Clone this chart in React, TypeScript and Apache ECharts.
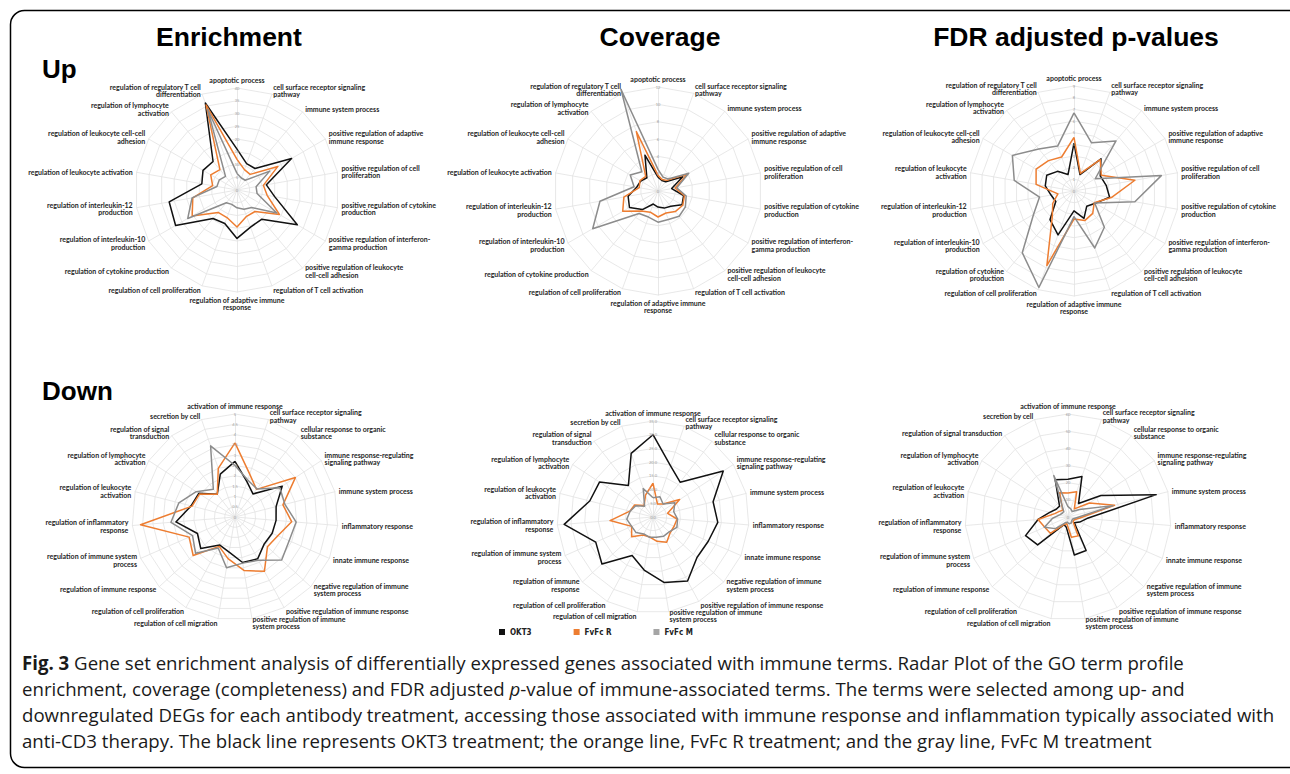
import React, { useEffect, useRef } from 'react';
import * as echarts from 'echarts';

// ---------------- data ----------------
const seriesNames = ['OKT3', 'FvFc R', 'FvFc M'];
const lineColors = ['#111111', '#ED7D31', '#8C8C8C'];
const legendColors = ['#111111', '#ED7D31', '#A5A5A5'];

const upLabels = [
  'apoptotic process',
  'cell surface receptor signaling\npathway',
  'immune system process',
  'positive regulation of adaptive\nimmune response',
  'positive regulation of cell\nproliferation',
  'positive regulation of cytokine\nproduction',
  'positive regulation of interferon-\ngamma production',
  'positive regulation of leukocyte\ncell-cell adhesion',
  'regulation of T cell activation',
  'regulation of adaptive immune\nresponse',
  'regulation of cell proliferation',
  'regulation of cytokine production',
  'regulation of interleukin-10\nproduction',
  'regulation of interleukin-12\nproduction',
  'regulation of leukocyte activation',
  'regulation of leukocyte cell-cell\nadhesion',
  'regulation of lymphocyte\nactivation',
  'regulation of regulatory T cell\ndifferentiation',
];
const upLabelsFdr = [
  'apoptotic process',
  'cell surface receptor signaling\npathway',
  'immune system process',
  'positive regulation of adaptive\nimmune response',
  'positive regulation of cell\nproliferation',
  'positive regulation of cytokine\nproduction',
  'positive regulation of interferon-\ngamma production',
  'positive regulation of leukocyte\ncell-cell adhesion',
  'regulation of T cell activation',
  'regulation of adaptive immune\nresponse',
  'regulation of cell proliferation',
  'regulation of cytokine\nproduction',
  'regulation of interleukin-10\nproduction',
  'regulation of interleukin-12\nproduction',
  'regulation of leukocyte\nactivation',
  'regulation of leukocyte cell-cell\nadhesion',
  'regulation of lymphocyte\nactivation',
  'regulation of regulatory T cell\ndifferentiation',
];
const downLabels = [
  'activation of immune response',
  'cell surface receptor signaling\npathway',
  'cellular response to organic\nsubstance',
  'immune response-regulating\nsignaling pathway',
  'immune system process',
  'inflammatory response',
  'innate immune response',
  'negative regulation of immune\nsystem process',
  'positive regulation of immune response',
  'positive regulation of immune\nsystem process',
  'regulation of cell migration',
  'regulation of cell proliferation',
  'regulation of immune response',
  'regulation of immune system\nprocess',
  'regulation of inflammatory\nresponse',
  'regulation of leukocyte\nactivation',
  'regulation of lymphocyte\nactivation',
  'regulation of signal\ntransduction',
  'secretion by cell',
];
const downLabelsCov = [
  'activation of immune response',
  'cell surface receptor signaling\npathway',
  'cellular response to organic\nsubstance',
  'immune response-regulating\nsignaling pathway',
  'immune system process',
  'inflammatory response',
  'innate immune response',
  'negative regulation of immune\nsystem process',
  'positive regulation of immune response',
  'positive regulation of immune\nsystem process',
  'regulation of cell migration',
  'regulation of cell proliferation',
  'regulation of immune\nresponse',
  'regulation of immune system\nprocess',
  'regulation of inflammatory\nresponse',
  'regulation of leukocyte\nactivation',
  'regulation of lymphocyte\nactivation',
  'regulation of signal\ntransduction',
  'secretion by cell',
];
const downLabelsFdr = [
  'activation of immune response',
  'cell surface receptor signaling\npathway',
  'cellular response to organic\nsubstance',
  'immune response-regulating\nsignaling pathway',
  'immune system process',
  'inflammatory response',
  'innate immune response',
  'negative regulation of immune\nsystem process',
  'positive regulation of immune response',
  'positive regulation of immune\nsystem process',
  'regulation of cell migration',
  'regulation of cell proliferation',
  'regulation of immune response',
  'regulation of immune system\nprocess',
  'regulation of inflammatory\nresponse',
  'regulation of leukocyte\nactivation',
  'regulation of lymphocyte\nactivation',
  'regulation of signal transduction',
  'secretion by cell',
];

// Up - Enrichment
const upEnrichOKT3 = [16, 11, 11, 24.7, 11.7, 15, 27.3, 15, 15.5, 19, 14, 14.6, 27.8, 27, 14, 15.4, 14.6, 36.3];
const upEnrichFvFcR = [12, 8.5, 8, 18.5, 10.5, 12, 19.2, 11, 11, 14.5, 11.5, 11.5, 20.3, 17.6, 9.7, 11.9, 10.4, 35.5];
const upEnrichFvFcM = [6.5, 5, 5, 14.8, 7.6, 8, 18, 9, 8, 7, 6, 6.5, 22.3, 17.9, 8, 8, 7, 33.7];
// Up - Coverage
const upCovOKT3 = [1.6, 1.3, 1.4, 3.3, 1.6, 3.0, 3.2, 2.3, 2.1, 1.85, 1.6, 2.8, 3.8, 3.5, 2.5, 2.3, 2.0, 4.4];
const upCovFvFcR = [1.8, 1.4, 1.6, 3.9, 2.0, 3.1, 3.3, 3.1, 2.7, 3.0, 2.6, 3.0, 4.7, 4.0, 2.2, 2.4, 2.2, 7.3];
const upCovFvFcM = [2.5, 1.7, 1.8, 4.1, 2.2, 3.3, 3.65, 3.8, 3.5, 3.6, 3.2, 3.4, 8.7, 6.8, 2.8, 3.7, 2.9, 12.5];
// Up - FDR
const upFdrOKT3 = [4.1, 1.5, 3.6, 2.6, 2.8, 3.1, 2.1, 1.7, 2.5, 1.7, 4.0, 3.2, 1.8, 2.0, 2.5, 2.7, 2.2, 1.5];
const upFdrFvFcR = [4.6, 1.6, 3.5, 2.7, 5.3, 3.25, 2.0, 2.5, 2.7, 2.4, 6.8, 2.9, 2.1, 1.4, 3.3, 3.75, 3.4, 3.1];
const upFdrFvFcM = [6.7, 4.4, 5.6, 2.1, 7.6, 5.3, 2.05, 4.05, 5.2, 2.2, 8.8, 6.9, 4.0, 3.0, 5.2, 6.1, 4.7, 4.1];
// Down - Enrichment
const downEnrichOKT3 = [2.7, 1.8, 1.42, 2.74, 2.06, 2.0, 1.97, 1.93, 2.31, 2.24, 1.73, 1.55, 2.26, 1.99, 2.88, 2.2, 2.1, 1.4, 2.2];
const downEnrichFvFcR = [3.6, 2.2, 1.7, 3.5, 2.4, 2.76, 2.27, 2.14, 3.0, 2.63, 2.05, 1.62, 2.76, 2.43, 4.6, 2.15, 2.05, 1.4, 2.5];
const downEnrichFvFcM = [2.5, 1.9, 1.73, 2.6, 2.5, 2.98, 2.87, 3.08, 2.39, 2.27, 2.5, 1.71, 2.6, 2.25, 3.12, 2.81, 2.25, 1.71, 3.65];
// Down - Coverage
const downCovOKT3 = [30, 19.7, 16.1, 30.6, 22.6, 23.7, 22, 21.8, 26.5, 24.2, 19.6, 16, 25.3, 22.8, 32.5, 23.8, 23.3, 14.6, 24.5];
const downCovFvFcR = [12.3, 5, 6, 11.6, 5.5, 8.8, 8.4, 8.5, 10.5, 9, 7.4, 7.5, 10.6, 8.5, 15.7, 8.7, 8, 5.3, 8.4];
const downCovFvFcM = [7, 7.8, 6, 9.5, 7.8, 9, 9.5, 8, 8, 7.5, 7.5, 7, 8.4, 8.5, 9.6, 8.6, 7.5, 5, 11];
// Down - FDR
const downFdrOKT3 = [22, 25, 10, 22.9, 53, 11, 7.4, 5, 22.2, 22.4, 6, 5, 24, 27, 17.5, 11, 8.2, 8, 23];
const downFdrFvFcR = [14, 15.5, 6, 14.9, 28, 7, 4, 4, 12.5, 12, 4, 5, 14, 14.8, 17.5, 8, 6, 5, 15];
const downFdrFvFcM = [6, 5, 4, 8, 27, 5, 3, 3, 4, 4, 3, 4, 10, 15, 9, 5, 4, 4, 25.5];

// tick labels
const upEnrichTicks = ['0', '5', '10', '15', '20', '25', '30', '35', '40'];
const upCovTicks = ['0', '2', '4', '6', '8', '10', '12'];
const upFdrTicks = ['0', '1', '2', '3', '4', '5', '6', '7', '8', '9'];
const downEnrichTicks = ['0', '0.5', '1', '1.5', '2', '2.5', '3', '3.5', '4', '4.5', '5'];
const downCovTicks = ['0.0', '5.0', '10.0', '15.0', '20.0', '25.0', '30.0', '35.0'];
const downFdrTicks = ['0', '10', '20', '30', '40', '50', '60'];

const columnTitles = ['Enrichment', 'Coverage', 'FDR adjusted p-values'];
const rowTitles = ['Up', 'Down'];

const captionLines = [
  'Fig. 3 Gene set enrichment analysis of differentially expressed genes associated with immune terms. Radar Plot of the GO term profile',
  'enrichment, coverage (completeness) and FDR adjusted p-value of immune-associated terms. The terms were selected among up- and',
  'downregulated DEGs for each antibody treatment, accessing those associated with immune response and inflammation typically associated with',
  'anti-CD3 therapy. The black line represents OKT3 treatment; the orange line, FvFc R treatment; and the gray line, FvFc M treatment',
];

// ---------------- layout ----------------
const panels = [
  { labels: upLabels, ticks: upEnrichTicks, values: [upEnrichOKT3, upEnrichFvFcR, upEnrichFvFcM], center: [237, 190], radius: 102 },
  { labels: upLabels, ticks: upCovTicks, values: [upCovOKT3, upCovFvFcR, upCovFvFcM], center: [658, 191], radius: 104 },
  { labels: upLabelsFdr, ticks: upFdrTicks, values: [upFdrOKT3, upFdrFvFcR, upFdrFvFcM], center: [1074, 191], radius: 105 },
  { labels: downLabels, ticks: downEnrichTicks, values: [downEnrichOKT3, downEnrichFvFcR, downEnrichFvFcM], center: [235, 517], radius: 103 },
  { labels: downLabelsCov, ticks: downCovTicks, values: [downCovOKT3, downCovFvFcR, downCovFvFcM], center: [653, 517], radius: 96 },
  { labels: downLabelsFdr, ticks: downFdrTicks, values: [downFdrOKT3, downFdrFvFcR, downFdrFvFcM], center: [1068, 517], radius: 103 },
];
const titleX = [229, 660, 1076];
const titleY = 37;
const rowTitleY = [69, 391];

// ECharts radar runs counter-clockwise; reorder to read clockwise from the top
const clockwise = <T,>(arr: T[]): T[] => [arr[0], ...arr.slice(1).reverse()];

const LABEL_FONT = 'Lato, "Open Sans", sans-serif';
const TITLE_FONT = '"Liberation Sans", Arial, sans-serif';
const CAPTION_FONT = '"Open Sans", "Noto Sans", sans-serif';
const CAPTION_SIZE = 19;

export default function App() {
  const ref = useRef<HTMLDivElement>(null);
  useEffect(() => {
    if (!ref.current) return;
    const chart = echarts.init(ref.current, undefined, { renderer: 'svg' });

    const radar = panels.map((p) => {
      const max = parseFloat(p.ticks[p.ticks.length - 1]);
      return {
        center: p.center,
        radius: p.radius,
        startAngle: 90,
        shape: 'polygon',
        splitNumber: p.ticks.length - 1,
        axisNameGap: 4,
        indicator: clockwise(p.labels).map((name) => ({ name, min: 0, max })),
        axisName: {
          color: '#262626',
          fontSize: 7,
          fontWeight: 'bold',
          fontFamily: LABEL_FONT,
          lineHeight: 7.6,
        },
        splitLine: { lineStyle: { color: '#e2e2e2', width: 0.8 } },
        splitArea: { show: false },
        axisLine: { lineStyle: { color: '#e2e2e2', width: 0.8 } },
        axisTick: { show: false },
        axisLabel: { show: false },
      };
    });

    const series = panels.map((p, pi) => ({
      type: 'radar',
      radarIndex: pi,
      symbol: 'none',
      data: p.values.map((vals, si) => ({
        name: seriesNames[si],
        value: clockwise(vals),
        symbol: 'none',
        itemStyle: { color: legendColors[si] },
        lineStyle: { color: lineColors[si], width: 1.5 },
      })),
    }));

    const graphic: any[] = [];
    // frame
    graphic.push({
      type: 'rect',
      shape: { x: 10.5, y: 10.5, width: 1400, height: 757, r: 14 },
      style: { fill: 'none', stroke: '#000', lineWidth: 1.5 },
      z: 10,
    });
    columnTitles.forEach((t, i) => {
      graphic.push({
        type: 'text', x: titleX[i], y: titleY,
        style: { text: t, fontSize: 26.5, fontWeight: 'bold', fontFamily: TITLE_FONT, fill: '#000',
          align: 'center', verticalAlign: 'middle', textAlign: 'center', textVerticalAlign: 'middle' },
      });
    });
    rowTitles.forEach((t, i) => {
      graphic.push({
        type: 'text', x: 42, y: rowTitleY[i],
        style: { text: t, fontSize: 26, fontWeight: 'bold', fontFamily: TITLE_FONT, fill: '#000',
          align: 'left', verticalAlign: 'middle', textAlign: 'left', textVerticalAlign: 'middle' },
      });
    });
    // tick labels along the first axis
    panels.forEach((p) => {
      const n = p.ticks.length - 1;
      p.ticks.forEach((t, i) => {
        graphic.push({
          type: 'text', x: p.center[0], y: p.center[1] - (p.radius * i) / n,
          style: { text: t, fontSize: 4, fontFamily: LABEL_FONT, fill: '#a0a0a0',
            align: 'center', verticalAlign: 'middle', textAlign: 'center', textVerticalAlign: 'middle' },
          z: 5,
        });
      });
    });
    // caption
    const ctx = document.createElement('canvas').getContext('2d');
    let sx = 0.9;
    if (ctx) {
      ctx.font = `${CAPTION_SIZE}px ${CAPTION_FONT}`;
      const w = ctx.measureText(captionLines[2]).width;
      if (w > 0) sx = 1253 / w;
    }
    captionLines.forEach((line, i) => {
      let text = line;
      if (line.startsWith('Fig. 3')) text = '{b|Fig. 3}' + line.slice(6);
      text = text.replace(' p-value', ' {i|p}-value');
      graphic.push({
        type: 'text', x: 22, y: 663 + i * 26, scaleX: sx,
        style: {
          text, fontSize: CAPTION_SIZE, fontFamily: CAPTION_FONT, fill: '#1a1a1a',
          align: 'left', verticalAlign: 'middle', textAlign: 'left', textVerticalAlign: 'middle',
          rich: {
            b: { fontSize: CAPTION_SIZE, fontFamily: CAPTION_FONT, fontWeight: 'bold', fill: '#1a1a1a', color: '#1a1a1a' },
            i: { fontSize: CAPTION_SIZE, fontFamily: CAPTION_FONT, fontStyle: 'italic', fill: '#1a1a1a', color: '#1a1a1a' },
          },
        },
      });
    });

    chart.setOption({
      animation: false,
      backgroundColor: '#ffffff',
      legend: {
        data: seriesNames,
        left: 494,
        top: 623,
        icon: 'rect',
        itemWidth: 6,
        itemHeight: 6,
        itemGap: 42,
        selectedMode: false,
        textStyle: { fontSize: 8, fontWeight: 'bold', fontFamily: '"Liberation Sans Narrow", "DejaVu Sans Condensed", Lato, sans-serif', color: '#222' },
      },
      radar,
      series,
      graphic,
    });
    return () => chart.dispose();
  }, []);
  return (
    <div
      ref={ref}
      style={{ position: 'absolute', left: 0, top: 0, width: 1290, height: 774, background: '#fff' }}
    />
  );
}
